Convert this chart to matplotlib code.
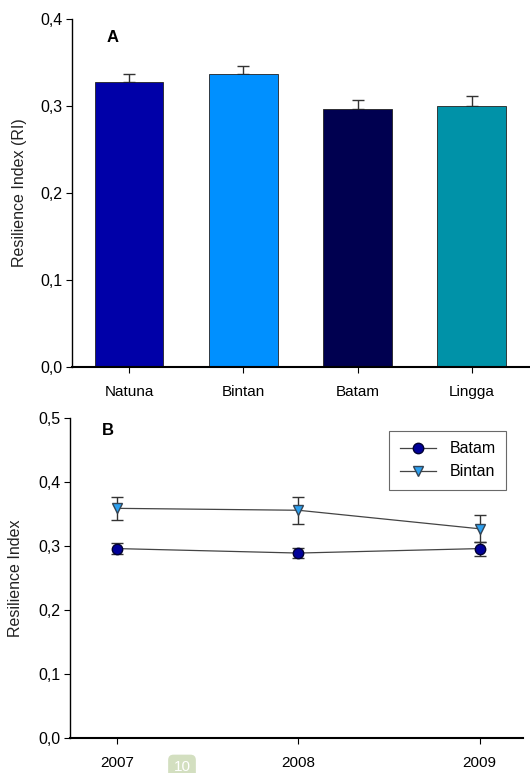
import matplotlib
matplotlib.use("Agg")
import matplotlib.pyplot as plt
import numpy as np

plt.rcParams['font.family'] = ['Liberation Sans', 'DejaVu Sans']

# Panel A data
sites = ["Natuna", "Bintan", "Batam", "Lingga"]
ri_mean = [0.328, 0.337, 0.296, 0.300]
ri_err = [0.009, 0.009, 0.011, 0.012]
bar_colors = ["#0000A8", "#0090FF", "#000050", "#0092A8"]

# Panel B data
years = [2007, 2008, 2009]
batam_mean = [0.296, 0.289, 0.296]
batam_err = [0.008, 0.008, 0.011]
bintan_mean = [0.359, 0.356, 0.327]
bintan_err = [0.018, 0.021, 0.021]

yticks_a = [0.0, 0.1, 0.2, 0.3, 0.4]
yticks_b = [0.0, 0.1, 0.2, 0.3, 0.4, 0.5]

def comma(v):
    return f"{v:.1f}".replace(".", ",")

TICK_FS = 11.5
LABEL_FS = 11.5

fig = plt.figure(figsize=(5.30, 7.73), dpi=100)

# ---- Panel A ----
axA = fig.add_axes([0.1358, 0.5252, 0.862, 0.4502])
x = np.arange(len(sites))
axA.bar(x, ri_mean, width=0.6, color=bar_colors, edgecolor="#222222", linewidth=0.6, zorder=2)
axA.errorbar(x, ri_mean, yerr=[np.zeros(len(ri_err)), ri_err], fmt="none",
             ecolor="#333333", elinewidth=1.0, capsize=4, capthick=1.0, zorder=1)
axA.set_xlim(-0.5, 3.5)
axA.set_ylim(0, 0.4)
axA.set_yticks(yticks_a)
axA.set_yticklabels([comma(v) for v in yticks_a], fontsize=TICK_FS)
axA.set_xticks(x)
axA.set_xticklabels(sites, fontsize=11)
axA.tick_params(axis="x", length=4, pad=9, direction="out")
axA.tick_params(axis="y", length=4, pad=3, direction="out")
axA.set_ylabel("Resilience Index (RI)", fontsize=LABEL_FS, color="#222222")
axA.yaxis.set_label_coords(-0.099, 0.5)
for s in ["top", "right"]:
    axA.spines[s].set_visible(False)
axA.spines["left"].set_linewidth(1.0)
axA.spines["bottom"].set_linewidth(1.5)
axA.text(0.088, 0.948, "A", transform=axA.transAxes, fontsize=12, fontweight="bold",
         ha="center", va="center")

# ---- Panel B ----
axB = fig.add_axes([0.132, 0.0457, 0.855, 0.4132])
axB.errorbar(years, batam_mean, yerr=batam_err, fmt="-o", color="#444444", lw=0.9,
             mfc="#000099", mec="#000033", ms=7.5, ecolor="#333333", elinewidth=1.0,
             capsize=4, capthick=1.0, label="Batam", zorder=3)
axB.errorbar(years, bintan_mean, yerr=bintan_err, fmt="-v", color="#444444", lw=0.9,
             mfc="#2CA0F0", mec="#334455", ms=7.5, ecolor="#333333", elinewidth=1.0,
             capsize=4, capthick=1.0, label="Bintan", zorder=3)
axB.set_xlim(2006.74, 2009.24)
axB.set_ylim(0, 0.5)
axB.set_xticks(years)
axB.set_xticklabels([str(y) for y in years], fontsize=11)
axB.set_yticks(yticks_b)
axB.set_yticklabels([comma(v) for v in yticks_b], fontsize=TICK_FS)
axB.tick_params(axis="x", length=4, pad=9, direction="out")
axB.tick_params(axis="y", length=4, pad=3, direction="out")
axB.set_ylabel("Resilience Index", fontsize=LABEL_FS, color="#222222")
axB.yaxis.set_label_coords(-0.104, 0.5)
for s in ["top", "right"]:
    axB.spines[s].set_visible(False)
axB.spines["left"].set_linewidth(1.0)
axB.spines["bottom"].set_linewidth(1.5)
axB.text(0.083, 0.963, "B", transform=axB.transAxes, fontsize=12, fontweight="bold",
         ha="center", va="center")
handles, labels = axB.get_legend_handles_labels()
handles = [h[0] for h in handles]
leg = axB.legend(handles, labels, loc="upper right", bbox_to_anchor=(0.962, 0.960),
                 borderaxespad=0.0,
                 fontsize=11.5, frameon=True, fancybox=False, edgecolor="#444444",
                 handlelength=2.25, borderpad=0.65, labelspacing=0.5, handletextpad=0.85)
leg.get_frame().set_linewidth(0.8)

# page number badge
fig.text(182 / 530, 1 - 767 / 773, "10", fontsize=11, color="white", ha="center", va="center",
         bbox=dict(boxstyle="round,pad=0.35", fc="#D3DFC0", ec="none"))

fig.savefig("out.png", dpi=100)
